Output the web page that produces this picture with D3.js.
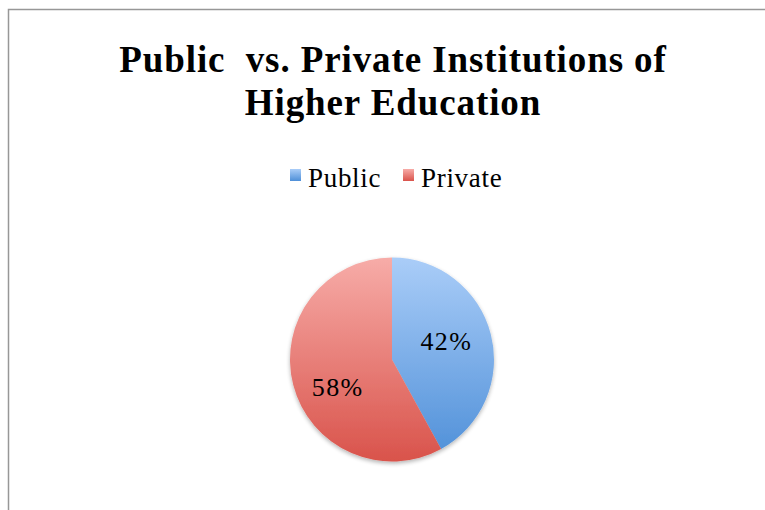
<!DOCTYPE html>
<html>
<head>
<meta charset="utf-8">
<script src="https://cdn.jsdelivr.net/npm/d3@7"></script>
<style>
  html, body { margin: 0; padding: 0; background: #fff; }
  svg { display: block; }
</style>
</head>
<body>
<script>
// Chart data
const titleLines = ["Public  vs. Private Institutions of", "Higher Education"];
const categories = ["Public", "Private"];
const shares = [42, 58];

const W = 765, H = 510;
const fontFamily = "'Liberation Serif', 'DejaVu Serif', serif";

const svg = d3.select("body").append("svg")
  .attr("width", W).attr("height", H);

const defs = svg.append("defs");
const palettes = {
  Public: ["#aacdf8", "#4e8fd8"],
  Private: ["#f7aca8", "#d9534b"]
};
categories.forEach(c => {
  const g = defs.append("linearGradient")
    .attr("id", "grad-" + c)
    .attr("x1", 0).attr("y1", 0).attr("x2", 0).attr("y2", 1);
  g.append("stop").attr("offset", "0%").attr("stop-color", palettes[c][0]);
  g.append("stop").attr("offset", "100%").attr("stop-color", palettes[c][1]);
});

const cx = 392, cy = 359.5, r = 102;

categories.forEach(c => {
  const g = defs.append("linearGradient")
    .attr("id", "pgrad-" + c)
    .attr("gradientUnits", "userSpaceOnUse")
    .attr("x1", 0).attr("y1", -r).attr("x2", 0).attr("y2", r);
  g.append("stop").attr("offset", "0%").attr("stop-color", palettes[c][0]);
  g.append("stop").attr("offset", "100%").attr("stop-color", palettes[c][1]);
});

const shadow = defs.append("filter").attr("id", "shadow")
  .attr("x", "-20%").attr("y", "-20%").attr("width", "140%").attr("height", "140%");
shadow.append("feGaussianBlur").attr("in", "SourceAlpha").attr("stdDeviation", 2);
shadow.append("feOffset").attr("dx", 0).attr("dy", 1.5).attr("result", "b");
shadow.append("feComponentTransfer").append("feFuncA").attr("type", "linear").attr("slope", 0.3);
const merge = shadow.append("feMerge");
merge.append("feMergeNode");
merge.append("feMergeNode").attr("in", "SourceGraphic");

// Chart frame (left and top edges)
svg.append("path")
  .attr("d", d3.line()([[8.5, H], [8.5, 9.5], [W, 9.5]]))
  .attr("fill", "none")
  .attr("stroke", "#979797")
  .attr("stroke-width", 1.5);

// Title
const title = svg.append("text")
  .attr("text-anchor", "middle")
  .attr("font-family", fontFamily)
  .attr("font-weight", "bold")
  .attr("font-size", 37)
  .attr("letter-spacing", 0.9)
  .attr("fill", "#000");
titleLines.forEach((t, i) => {
  title.append("tspan")
    .attr("x", 393)
    .attr("y", 72 + i * 43)
    .attr("xml:space", "preserve")
    .style("white-space", "pre")
    .text(t);
});

// Legend
const legendX = d3.scalePoint().domain(categories).range([290, 403]);
const legend = svg.append("g");
categories.forEach(c => {
  const x0 = legendX(c);
  legend.append("rect")
    .attr("x", x0).attr("y", 169)
    .attr("width", 11).attr("height", 12)
    .attr("fill", "url(#grad-" + c + ")");
  legend.append("text")
    .attr("x", x0 + 18).attr("y", 187)
    .attr("font-family", fontFamily)
    .attr("font-size", 27)
    .attr("letter-spacing", 0.7)
    .attr("fill", "#000")
    .text(c);
});

// Pie
const pie = d3.pie().sort(null).value(d => d.value);
const arcs = pie(categories.map((c, i) => ({ name: c, value: shares[i] })));
const arc = d3.arc().innerRadius(0).outerRadius(r);
const labelArc = d3.arc().innerRadius(0).outerRadius(r * 1.1);

const pg = svg.append("g").attr("transform", `translate(${cx},${cy})`);
pg.append("g").attr("filter", "url(#shadow)")
  .selectAll("path").data(arcs).join("path")
  .attr("d", arc)
  .attr("fill", d => "url(#pgrad-" + d.data.name + ")");

// Data labels sit near each slice's centroid, shifted slightly toward the
// slice's lower/upper bulk.
pg.selectAll("text.lbl").data(arcs).join("text")
  .attr("class", "lbl")
  .attr("transform", d => {
    const [x, y] = labelArc.centroid(d);
    const shift = d.index === 0 ? -5 : 13;
    return `translate(${x},${y + shift})`;
  })
  .attr("text-anchor", "middle")
  .attr("dy", "0.35em")
  .attr("font-family", fontFamily)
  .attr("font-size", 26)
  .attr("letter-spacing", 1.4)
  .attr("fill", "#000")
  .text(d => d.data.value + "%");
</script>
</body>
</html>
